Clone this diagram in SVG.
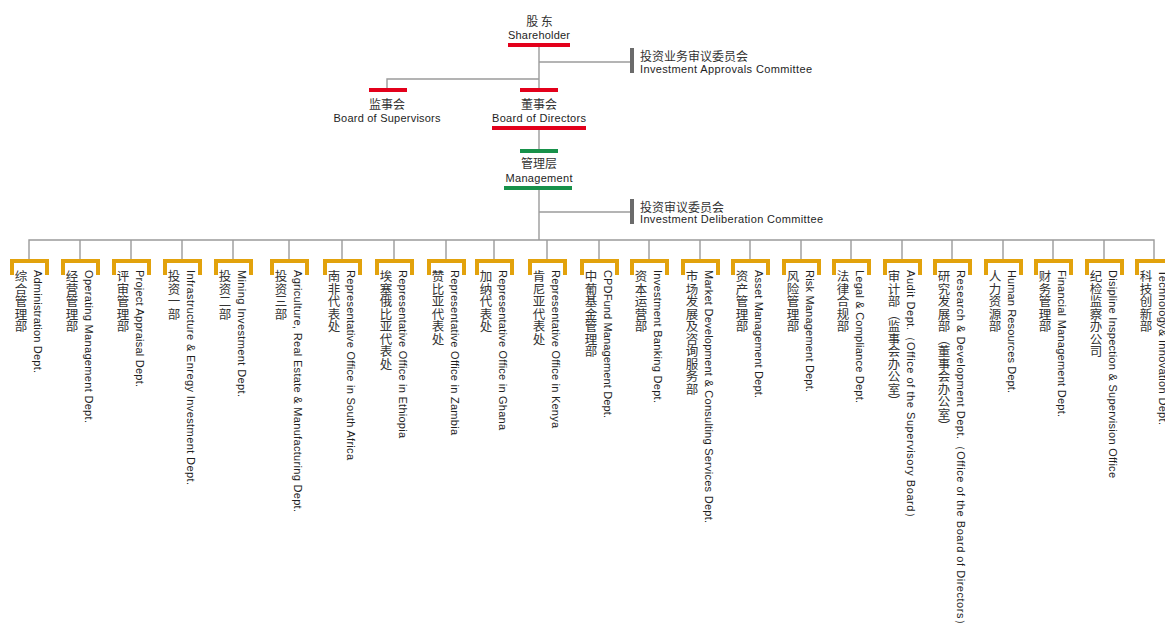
<svg xmlns="http://www.w3.org/2000/svg" xmlns:xlink="http://www.w3.org/1999/xlink" width="1165" height="624" viewBox="0 0 1165 624">
<style>
.ln{stroke:#9b9b9b;stroke-width:1.4;fill:none}
.red{fill:#e3001b}
.grn{fill:#17914a}
.cbar{fill:#6b6b6b}
.br{fill:none;stroke:#e2a20c;stroke-width:4}
.zh{font-family:"Noto Sans CJK SC","Noto Sans",sans-serif;font-size:12px;fill:#333}
.en{font-family:"Liberation Sans",Arial,sans-serif;font-size:11px;fill:#1e1e1e}
.v{writing-mode:vertical-rl;font-size:12.5px}
.m{text-anchor:middle}
</style>
<defs>
<path id="br" class="br" d="M-17,275V261H18V275"/>
</defs>
<rect width="1165" height="624" fill="#fff"/>
<g id="connectors">
<path class="ln" d="M539,47V88"/>
<path class="ln" d="M539,62H630"/>
<path class="ln" d="M387,88V79H539"/>
<path class="ln" d="M539,130V149"/>
<path class="ln" d="M539,190V240"/>
<path class="ln" d="M539,212H630"/>
<path class="ln" d="M29,259V240H1154V259"/>
<path class="ln" d="M80,240V259M131,240V259M182,240V259M233,240V259M289,240V259M342,240V259M394,240V259M446,240V259M494,240V259M547,240V259M599,240V259M649,240V259M700,240V259M750,240V259M801,240V259M851,240V259M902,240V259M952,240V259M1003,240V259M1053,240V259M1104,240V259"/>
</g>
<g id="shareholder">
<text class="zh m" x="539.5" y="26">股 东</text>
<text class="en m" x="539" y="39" textLength="62">Shareholder</text>
<rect class="red" x="508" y="43" width="62" height="4"/>
</g>
<g id="approvals-committee">
<rect class="cbar" x="630" y="48" width="4" height="25"/>
<text class="zh" x="640" y="61">投资业务审议委员会</text>
<text class="en" x="640" y="73" textLength="172">Investment Approvals Committee</text>
</g>
<g id="supervisors">
<rect class="red" x="369" y="88" width="38" height="4"/>
<text class="zh m" x="387" y="109">监事会</text>
<text class="en m" x="387" y="122" textLength="107">Board of Supervisors</text>
</g>
<g id="directors">
<rect class="red" x="520" y="88" width="38" height="4"/>
<text class="zh m" x="539" y="109">董事会</text>
<text class="en m" x="539" y="122" textLength="94">Board of Directors</text>
<rect class="red" x="492" y="126" width="94" height="4"/>
</g>
<g id="management">
<rect class="grn" x="520" y="149" width="38" height="4"/>
<text class="zh m" x="539" y="168">管理层</text>
<text class="en m" x="539" y="182" textLength="67">Management</text>
<rect class="grn" x="504" y="186" width="68" height="4"/>
</g>
<g id="deliberation-committee">
<rect class="cbar" x="630" y="199" width="4" height="25"/>
<text class="zh" x="640" y="212">投资审议委员会</text>
<text class="en" x="640" y="223" textLength="183">Investment Deliberation Committee</text>
</g>
<g id="d01"><use xlink:href="#br" x="29"/><text class="zh v" x="21" y="270">综合管理部</text><text class="en" transform="translate(34,270) rotate(90)" textLength="103">Administration Dept.</text></g>
<g id="d02"><use xlink:href="#br" x="80"/><text class="zh v" x="72" y="270">经营管理部</text><text class="en" transform="translate(85,270) rotate(90)" textLength="153">Operating Management Dept.</text></g>
<g id="d03"><use xlink:href="#br" x="131"/><text class="zh v" x="123" y="270">评审管理部</text><text class="en" transform="translate(136,270) rotate(90)" textLength="117">Project Appraisal Dept.</text></g>
<g id="d04"><use xlink:href="#br" x="182"/><text class="zh v" x="174" y="270">投资一部</text><text class="en" transform="translate(187,270) rotate(90)" textLength="215">Infrastructure &amp; Enregy Investment Dept.</text></g>
<g id="d05"><use xlink:href="#br" x="233"/><text class="zh v" x="225" y="270">投资二部</text><text class="en" transform="translate(238,270) rotate(90)" textLength="127">Mining Investment Dept.</text></g>
<g id="d06"><use xlink:href="#br" x="289"/><text class="zh v" x="281" y="270">投资三部</text><text class="en" transform="translate(294,270) rotate(90)" textLength="242">Agriculture, Real Estate &amp; Manufacturing Dept.</text></g>
<g id="d07"><use xlink:href="#br" x="342"/><text class="zh v" x="334" y="270">南非代表处</text><text class="en" transform="translate(347,270) rotate(90)" textLength="190">Representative Office in South Africa</text></g>
<g id="d08"><use xlink:href="#br" x="394"/><text class="zh v" x="386" y="270">埃塞俄比亚代表处</text><text class="en" transform="translate(399,270) rotate(90)" textLength="168">Representative Office in Ethiopia</text></g>
<g id="d09"><use xlink:href="#br" x="446"/><text class="zh v" x="438" y="270">赞比亚代表处</text><text class="en" transform="translate(451,270) rotate(90)" textLength="165">Representative Office in Zambia</text></g>
<g id="d10"><use xlink:href="#br" x="494"/><text class="zh v" x="486" y="270">加纳代表处</text><text class="en" transform="translate(499,270) rotate(90)" textLength="160">Representative Office in Ghana</text></g>
<g id="d11"><use xlink:href="#br" x="547"/><text class="zh v" x="539" y="270">肯尼亚代表处</text><text class="en" transform="translate(552,270) rotate(90)" textLength="158">Representative Office in Kenya</text></g>
<g id="d12"><use xlink:href="#br" x="599"/><text class="zh v" x="591" y="270">中葡基金管理部</text><text class="en" transform="translate(604,270) rotate(90)" textLength="148">CPDFund Management Dept.</text></g>
<g id="d13"><use xlink:href="#br" x="649"/><text class="zh v" x="641" y="270">资本运营部</text><text class="en" transform="translate(654,270) rotate(90)" textLength="133">Investment Banking Dept.</text></g>
<g id="d14"><use xlink:href="#br" x="700"/><text class="zh v" x="692" y="270">市场发展及咨询服务部</text><text class="en" transform="translate(705,270) rotate(90)" textLength="253">Market Development &amp; Consulting Services Dept.</text></g>
<g id="d15"><use xlink:href="#br" x="750"/><text class="zh v" x="742" y="270">资产管理部</text><text class="en" transform="translate(755,270) rotate(90)" textLength="128">Asset Management Dept.</text></g>
<g id="d16"><use xlink:href="#br" x="801"/><text class="zh v" x="793" y="270">风险管理部</text><text class="en" transform="translate(806,270) rotate(90)" textLength="122">Risk Management Dept.</text></g>
<g id="d17"><use xlink:href="#br" x="851"/><text class="zh v" x="843" y="270">法律合规部</text><text class="en" transform="translate(856,270) rotate(90)" textLength="133">Legal &amp; Compliance Dept.</text></g>
<g id="d18"><use xlink:href="#br" x="902"/><text class="zh v" x="894" y="270">审计部（监事会办公室）</text><text class="en" transform="translate(907,270) rotate(90)" textLength="253">Audit Dept.（Office of the Supervisory Board）</text></g>
<g id="d19"><use xlink:href="#br" x="952"/><text class="zh v" x="944" y="270">研究发展部（董事会办公室）</text><text class="en" transform="translate(957,270) rotate(90)" textLength="360">Research &amp; Development Dept.（Office of the Board of Directors）</text></g>
<g id="d20"><use xlink:href="#br" x="1003"/><text class="zh v" x="995" y="270">人力资源部</text><text class="en" transform="translate(1008,270) rotate(90)" textLength="123">Human Resources Dept.</text></g>
<g id="d21"><use xlink:href="#br" x="1053"/><text class="zh v" x="1045" y="270">财务管理部</text><text class="en" transform="translate(1058,270) rotate(90)" textLength="147">Financial Management Dept.</text></g>
<g id="d22"><use xlink:href="#br" x="1104"/><text class="zh v" x="1096" y="270">纪检监察办公司</text><text class="en" transform="translate(1109,270) rotate(90)" textLength="208">Disipline Inspection &amp; Supervision Office</text></g>
<g id="d23"><use xlink:href="#br" x="1154"/><text class="zh v" x="1146" y="270">科技创新部</text><text class="en" transform="translate(1159,270) rotate(90)" textLength="155">Technology&amp; Innovation Dept.</text></g>
</svg>
